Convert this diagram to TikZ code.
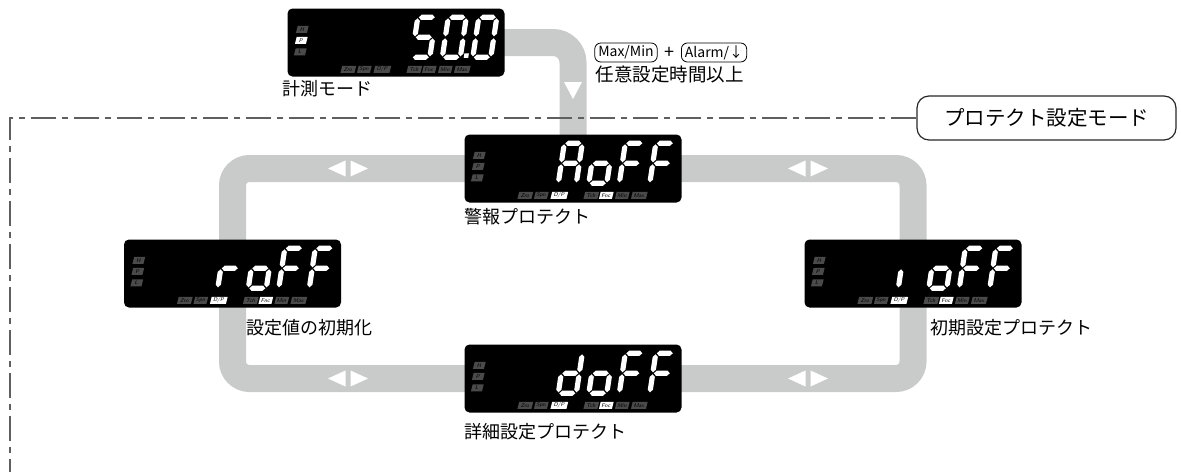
\documentclass[tikz,border=0pt]{standalone}
\usepackage{fontspec}
\newfontfamily\jpfont{Noto Sans CJK JP}
\usetikzlibrary{positioning}

\definecolor{bandgray}{RGB}{201,203,202}
\definecolor{tagoff}{RGB}{74,74,74}
\definecolor{framegray}{RGB}{95,95,95}

\tikzset{
  band/.style={draw=bandgray, line width=27pt},
  lcd/.style={fill=black, rounded corners=5pt, minimum width=217pt, minimum height=68pt, inner sep=0pt},
  lcdtag/.style={inner sep=0pt, minimum height=7pt, text=black, font=\sffamily\fontsize{5.5}{6}\selectfont, xslant=0.25, transform shape},
  lbl/.style={inner sep=0pt, font=\jpfont\fontsize{18}{20}\selectfont},
  keycap/.style={draw, rounded corners=6pt, line width=0.8pt, inner xsep=3.5pt, inner ysep=0pt, minimum height=19pt, font=\jpfont\fontsize{14}{15}\selectfont},
  modebox/.style={draw=black!85, line width=1.2pt, rounded corners=12pt, minimum width=259pt, minimum height=44pt, font=\jpfont\fontsize{20.5}{22}\selectfont},
  frame/.style={draw=framegray, line width=1.2pt, dash pattern=on 25pt off 6pt on 6pt off 6pt},
  seg/.style={fill=white},
}

% seven segment bars
\newcommand{\hseg}[3]{\fill[seg] (#1,#3)--(#1+2.6,#3-2.6)--(#2-2.6,#3-2.6)--(#2,#3)--(#2-2.6,#3+2.6)--(#1+2.6,#3+2.6)--cycle;}
\newcommand{\vseg}[3]{\fill[seg] (#1,#2)--(#1+2.6,#2+2.6)--(#1+2.6,#3-2.6)--(#1,#3)--(#1-2.6,#3-2.6)--(#1-2.6,#2+2.6)--cycle;}
\newcommand{\lcdsega}{\hseg{1}{17}{0}}
\newcommand{\lcdsegb}{\vseg{18}{1}{19}}
\newcommand{\lcdsegc}{\vseg{18}{21}{39}}
\newcommand{\lcdsegd}{\hseg{1}{17}{40}}
\newcommand{\lcdsege}{\vseg{0}{21}{39}}
\newcommand{\lcdsegf}{\vseg{0}{1}{19}}
\newcommand{\lcdsegg}{\hseg{1}{17}{20}}
\newcommand{\lcdsegp}{\fill[seg] (21.5,36) rectangle (26,40.5);}

% one character at position #1 (1..4)
\newcommand{\segchar}[2]{%
  \begin{scope}[shift={({100+30.5*(#1-1)},9)}, xslant=0.15]
    \foreach \s in {#2} {\csname lcdseg\s\endcsname}
  \end{scope}}

\newcommand{\lcdtag}[5]{\node[lcdtag, fill=#5, minimum width=#3] at (#1,#2) {#4};}

% name, x, y, characters, colour of P, colour of D/P and Fnc
\newcommand{\lcdpanel}[6]{%
  \node[lcd] (#1) at (#2,#3) {};
  \begin{scope}[shift={(#1.north west)}]
    \lcdtag{15}{21}{11pt}{H}{tagoff}
    \lcdtag{14}{32}{11pt}{P}{#5}
    \lcdtag{13}{43.5}{11pt}{L}{tagoff}
    \lcdtag{61}{61}{14pt}{Zro}{tagoff}
    \lcdtag{77}{61}{13pt}{Spn}{tagoff}
    \lcdtag{95}{61}{16pt}{D/P}{#6}
    \lcdtag{127}{61}{14pt}{Tch}{tagoff}
    \lcdtag{142}{61}{13pt}{Fnc}{#6}
    \lcdtag{158}{61}{13pt}{Min}{tagoff}
    \lcdtag{175}{61}{15pt}{Max}{tagoff}
    #4
  \end{scope}}

\begin{document}
\begin{tikzpicture}[x=1pt,y=-1pt]
  \useasboundingbox (0,0) rectangle (1181,472);

  % panels first, only to get their anchors
  \begin{scope}[opacity=0]
    \node[lcd] (meas) at (396,42.5) {};
    \node[lcd] (aoff) at (573,168.5) {};
    \node[lcd] (roff) at (232.5,273.5) {};
    \node[lcd] (ioff) at (913,273.5) {};
    \node[lcd] (doff) at (573,378.5) {};
  \end{scope}

  % gray flow band
  \draw[band, rounded corners=20pt] (meas.center) -| (aoff.center);
  \draw[band, rounded corners=17pt] (roff |- aoff) rectangle (ioff |- doff);
  \fill[white] (564,82) -- (582,82) -- (573,99) -- cycle;
  \foreach \x/\y in {348/168.5, 808/168.5, 348/378.5, 808/378.5}
  {
    \fill[white] (\x-20,\y) -- (\x-2.5,\y-8) -- (\x-2.5,\y+8) -- cycle;
    \fill[white] (\x+2.5,\y-8) -- (\x+2.5,\y+8) -- (\x+20,\y) -- cycle;
  }

  % protect mode frame
  \node[modebox] (mode) at (1046.5,118) {プロテクト設定モード};
  \coordinate (frametop) at (10,118);
  \coordinate (framebot) at (10,472);
  \draw[frame] (mode.west) -- (frametop) -- (framebot);

  % displays
  \lcdpanel{meas}{396}{42.5}{\segchar{2}{a,f,g,c,d}\segchar{3}{a,b,c,d,e,f,p}\segchar{4}{a,b,c,d,e,f}}{white}{tagoff}
  \lcdpanel{aoff}{573}{168.5}{\segchar{1}{a,b,c,e,f,g}\segchar{2}{c,d,e,g}\segchar{3}{a,e,f,g}\segchar{4}{a,e,f,g}}{tagoff}{white}
  \lcdpanel{roff}{232.5}{273.5}{\segchar{1}{e,g}\segchar{2}{c,d,e,g}\segchar{3}{a,e,f,g}\segchar{4}{a,e,f,g}}{tagoff}{white}
  \lcdpanel{ioff}{913}{273.5}{\segchar{1}{e}\segchar{2}{c,d,e,g}\segchar{3}{a,e,f,g}\segchar{4}{a,e,f,g}}{tagoff}{white}
  \lcdpanel{doff}{573}{378.5}{\segchar{1}{b,c,d,e,g}\segchar{2}{c,d,e,g}\segchar{3}{a,e,f,g}\segchar{4}{a,e,f,g}}{tagoff}{white}

  % labels
  \node[lbl, below right=3pt and -5pt of meas.south west] (measlbl) {計測モード};
  \node[lbl, below right=5pt and 0pt of aoff.south west] (aofflbl) {警報プロテクト};
  \node[lbl, below right=11pt and 14pt of roff.south] (rofflbl) {設定値の初期化};
  \node[lbl, below right=11pt and 17pt of ioff.south] (iofflbl) {初期設定プロテクト};
  \node[lbl, below right=10pt and 0pt of doff.south west] (dofflbl) {詳細設定プロテクト};

  % key combination
  \node[keycap] (kmax) at (626,52.5) {Max/Min};
  \node[inner sep=0pt, right=7pt of kmax, font=\jpfont\fontsize{18}{18}\selectfont] (kplus) {+};
  \node[keycap, right=6pt of kplus] (kalarm) {Alarm/↓};
  \node[inner sep=0pt, below right=3pt and 1pt of kmax.south west, font=\jpfont\fontsize{18.5}{20}\selectfont] (kcond) {任意設定時間以上};
\end{tikzpicture}
\end{document}
